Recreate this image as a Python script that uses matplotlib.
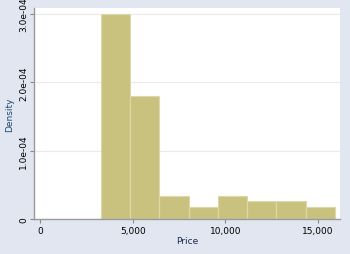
import matplotlib

matplotlib.use("Agg")
import matplotlib.pyplot as plt
import numpy as np

# price histogram (8 bins between min and max), counts
price_min = 3291
price_max = 15906
counts = [35, 21, 4, 2, 4, 3, 3, 2]
n_obs = sum(counts)

x_ticks = [0, 5000, 10000, 15000]
x_labels = ["0", "5,000", "10,000", "15,000"]
y_ticks = [0, 1e-4, 2e-4, 3e-4]
y_labels = ["0", "1.0e-04", "2.0e-04", "3.0e-04"]

edges = np.linspace(price_min, price_max, len(counts) + 1)
width = edges[1] - edges[0]
density = np.array(counts) / (n_obs * width)

bg = "#e1e6f0"
fig = plt.figure(figsize=(3.5, 2.55), dpi=100, facecolor=bg)
ax = fig.add_axes([34 / 350, 35 / 255, 306 / 350, 211 / 255])
ax.set_facecolor("white")

ax.bar(edges[:-1], density, width=width, align="edge",
       color="#c9c27f", edgecolor="#ddd8a8", linewidth=0.8, zorder=2)

ax.set_xlim(-324, 16181)
ax.set_ylim(0, 3.088e-4)
ax.set_xticks(x_ticks, x_labels)
ax.set_yticks(y_ticks, y_labels)
for t in ax.get_yticklabels():
    t.set_rotation(90)
    t.set_va("center")
ax.tick_params(axis="both", labelsize=6.5, colors="#8a8a8a", labelcolor="black",
               length=3, width=0.8, pad=2)
ax.tick_params(axis="y", pad=1)
ax.grid(axis="y", color="#eaeaea", linewidth=0.8, zorder=0)

for side in ["top", "right"]:
    ax.spines[side].set_visible(False)
for side in ["left", "bottom"]:
    ax.spines[side].set_color("#9a9a9a")
    ax.spines[side].set_linewidth(1.0)

ax.set_xlabel("Price", fontsize=6.5, color="#1a2a4a", labelpad=1)
ax.set_ylabel("Density", fontsize=6.5, color="#1a476f", labelpad=4)

fig.savefig("out.png", dpi=100, facecolor=bg)
